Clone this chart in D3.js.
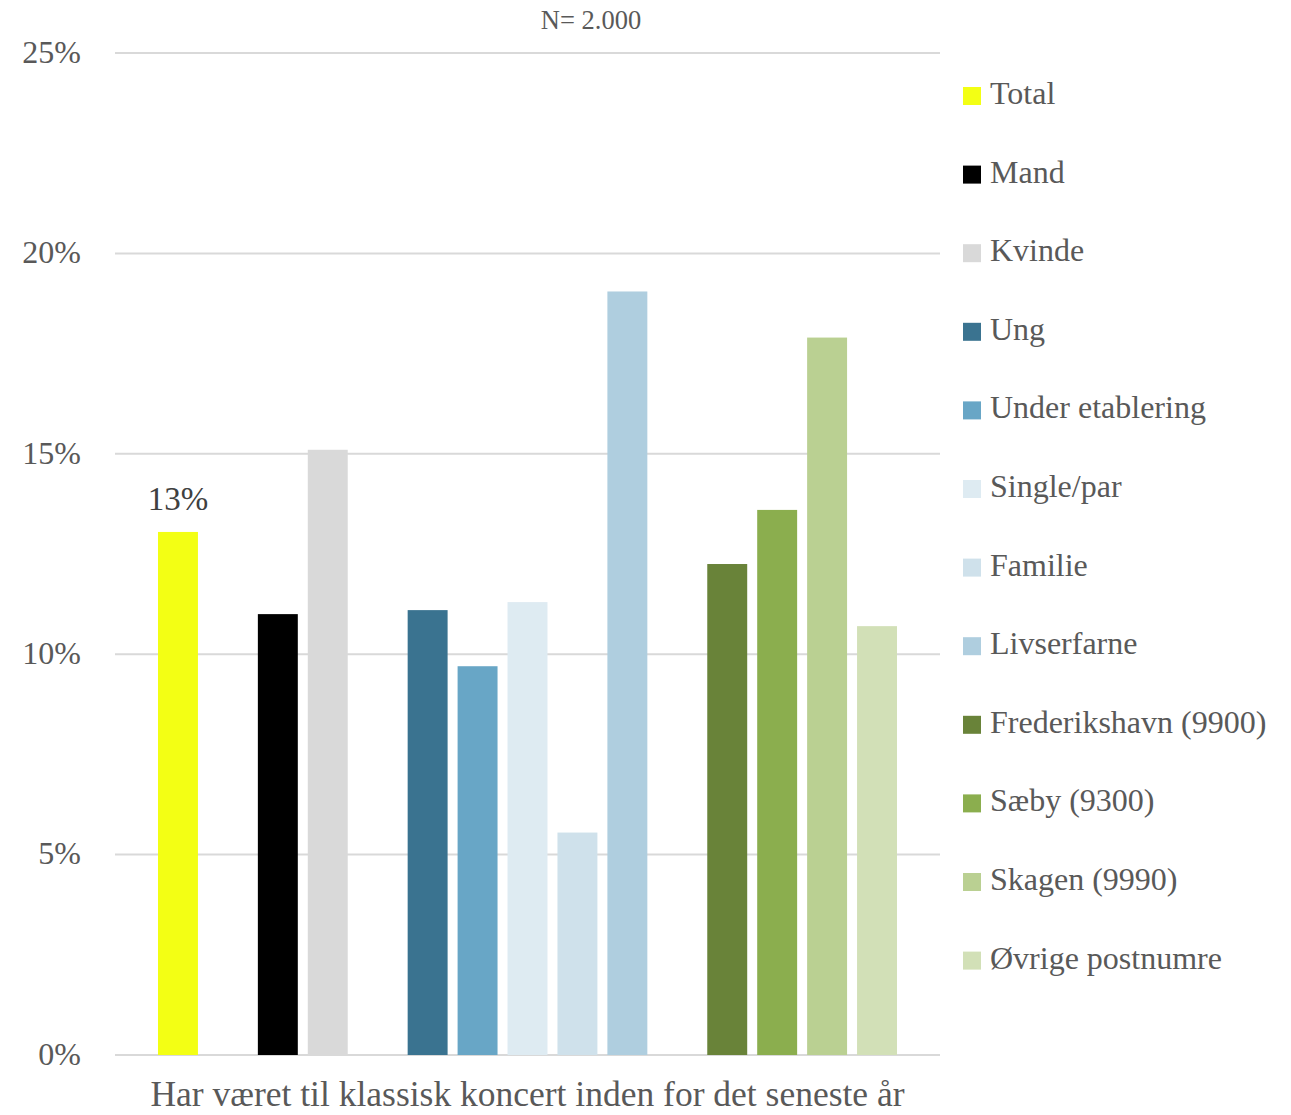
<!DOCTYPE html>
<html><head><meta charset="utf-8">
<script src="https://cdn.jsdelivr.net/npm/d3@7"></script>
<style>body{margin:0;background:#fff}svg{display:block}text{font-family:"Liberation Serif",serif}</style>
</head><body><svg id="c" width="1291" height="1115"></svg>
<script>
const category = "Har været til klassisk koncert inden for det seneste år";
const seriesNames = ["Total","Mand","Kvinde","Ung","Under etablering","Single/par","Familie","Livserfarne","Frederikshavn (9900)","Sæby (9300)","Skagen (9990)","Øvrige postnumre"];
const seriesValues = [13.05, 11.0, 15.1, 11.1, 9.7, 11.3, 5.55, 19.05, 12.25, 13.6, 17.9, 10.7];
const seriesColors = ["#f3ff14","#000000","#d9d9d9","#3a7390","#68a6c6","#deebf2","#cfe1eb","#afcedf","#698339","#8bae4e","#bad092","#d2e0b7"];
// slot layout: blanks separate groups
const slots = ["Total","_g1","Mand","Kvinde","_g2","Ung","Under etablering","Single/par","Familie","Livserfarne","_g3","Frederikshavn (9900)","Sæby (9300)","Skagen (9990)","Øvrige postnumre"];
const yTicks = [0,5,10,15,20,25];
const title = "N= 2.000";
const dataLabel = {series:"Total", text:"13%"};

const svg = d3.select("#c");
const plot = {l:115, r:940, t:53, b:1055};
const y = d3.scaleLinear().domain([0,25]).range([plot.b, plot.t]);
const x0 = d3.scaleBand().domain([category]).range([plot.l, plot.r]);
const x1 = d3.scaleBand().domain(slots).range([38, x0.bandwidth()-38]).paddingInner(0.2).paddingOuter(0.1);

// gridlines
svg.append("g").selectAll("line").data(yTicks).join("line")
  .attr("x1", plot.l).attr("x2", plot.r)
  .attr("y1", d=>y(d)).attr("y2", d=>y(d))
  .attr("stroke","#d9d9d9").attr("stroke-width",2);

// y axis labels
const yAxis = d3.axisLeft(y).tickValues(yTicks).tickFormat(d=>d+"%").tickSize(0).tickPadding(0);
const ga = svg.append("g").attr("transform",`translate(81,-1)`).call(yAxis);
ga.select(".domain").remove();
ga.selectAll("text").attr("fill","#595959").style("font-size","32px").style("font-family","Liberation Serif");

// bars
const data = seriesNames.map((n,i)=>({name:n, value:seriesValues[i], color:seriesColors[i]}));
const g = svg.append("g").attr("transform",`translate(${x0(category)},0)`);
g.selectAll("rect").data(data).join("rect")
  .attr("x", d=>x1(d.name)).attr("width", x1.bandwidth())
  .attr("y", d=>y(d.value)).attr("height", d=>y(0)-y(d.value))
  .attr("fill", d=>d.color);

// data label
const dl = data.find(d=>d.name===dataLabel.series);
g.append("text").attr("x", x1(dl.name)+x1.bandwidth()/2).attr("y", y(dl.value)-22)
  .attr("text-anchor","middle").attr("fill","#404040").style("font-size","33px").text(dataLabel.text);

// category label
svg.append("text").attr("x", x0(category)+x0.bandwidth()/2).attr("y", 1106)
  .attr("text-anchor","middle").attr("fill","#595959").style("font-size","35.5px").text(category);

// title
svg.append("text").attr("x", 591).attr("y", 29).attr("text-anchor","middle")
  .attr("fill","#595959").style("font-size","26.5px").text(title);

// legend
const leg = svg.append("g").attr("transform","translate(963,94)");
const li = leg.selectAll("g").data(data).join("g").attr("transform",(d,i)=>`translate(0,${i*78.6})`);
li.append("rect").attr("x",0).attr("y",-7).attr("width",18).attr("height",18).attr("fill",d=>d.color);
li.append("text").attr("x",27).attr("y",10).attr("fill","#595959").style("font-size","32px").text(d=>d.name);
</script></body></html>
